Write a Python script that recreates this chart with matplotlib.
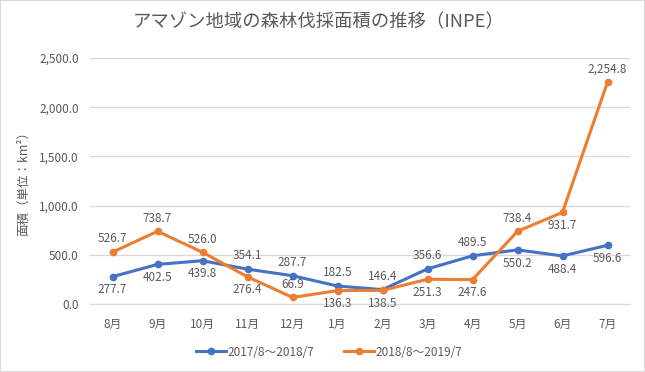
import matplotlib
matplotlib.use("Agg")
import matplotlib.pyplot as plt
from matplotlib.ticker import FuncFormatter
from matplotlib.patches import Rectangle

plt.rcParams['font.family'] = ['Noto Sans CJK JP', 'DejaVu Sans']

months = ["8月", "9月", "10月", "11月", "12月", "1月", "2月", "3月", "4月", "5月", "6月", "7月"]
area_2017 = [277.7, 402.5, 439.8, 354.1, 287.7, 182.5, 146.4, 356.6, 489.5, 550.2, 488.4, 596.6]
area_2018 = [526.7, 738.7, 526.0, 276.4, 66.9, 136.3, 138.5, 251.3, 247.6, 738.4, 931.7, 2254.8]
# label above (+1) or below (-1) the point
side_2017 = [-1, -1, -1, 1, 1, 1, 1, 1, 1, -1, -1, -1]
side_2018 = [1, 1, 1, -1, 1, -1, -1, -1, -1, 1, -1, 1]
names = ["2017/8～2018/7", "2018/8～2019/7"]

blue = "#4472C4"
orange = "#ED7D31"
gray = "#595959"
grid = "#D9D9D9"

W, H = 645, 372
fig = plt.figure(figsize=(W / 100, H / 100), dpi=100)
ax = fig.add_axes([90 / W, (H - 304) / H, 540 / W, 246 / H])

x = list(range(len(months)))
ax.plot(x, area_2017, color=blue, lw=2.2, marker="o", ms=4.5, label=names[0], zorder=3)
ax.plot(x, area_2018, color=orange, lw=2.2, marker="o", ms=4.5, label=names[1], zorder=3)

for vals, sides in [(area_2017, side_2017), (area_2018, side_2018)]:
    for i, (v, s) in enumerate(zip(vals, sides)):
        ax.annotate(f"{v:,.1f}", (i, v), xytext=(0, 9.5 * s), textcoords="offset points",
                    ha="center", va="center", fontsize=8.5, color=gray, zorder=4)

ax.set_xlim(-0.5, len(months) - 0.5)
ax.set_ylim(0, 2500)
ax.set_yticks([0, 500, 1000, 1500, 2000, 2500])
ax.yaxis.set_major_formatter(FuncFormatter(lambda v, p: f"{v:,.1f}"))
ax.set_xticks(x)
ax.set_xticklabels(months)
ax.tick_params(axis="both", length=0, colors=gray, labelsize=8.5)
ax.tick_params(axis="y", pad=8)
ax.tick_params(axis="x", pad=10)
ax.grid(axis="y", color=grid, lw=1)
ax.set_axisbelow(True)
for sp in ["top", "right", "left"]:
    ax.spines[sp].set_visible(False)
ax.spines["bottom"].set_color(grid)

fig.text(24 / W, (H - 181) / H, "面積（単位：km²）", rotation=90, ha="center", va="center",
         fontsize=9, color=gray)
fig.text(0.494, (H - 22) / H, "アマゾン地域の森林伐採面積の推移（INPE）", ha="center", va="center",
         fontsize=13.2, color=gray)

fig.legend(loc="center", bbox_to_anchor=(0.51, (H - 352) / H), ncol=2, frameon=False,
           fontsize=8.5, labelcolor=gray, handlelength=2.6, handletextpad=0.1, columnspacing=2.5)

fig.patches.append(Rectangle((0, 0), 1, 1, transform=fig.transFigure, fill=False,
                             edgecolor=grid, lw=1.5))

fig.savefig("out.png", dpi=100)
